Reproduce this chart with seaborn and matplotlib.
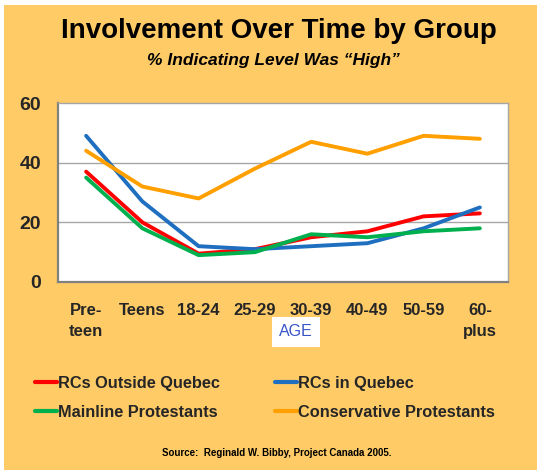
import matplotlib
matplotlib.use("Agg")
import matplotlib.pyplot as plt
import seaborn as sns
import pandas as pd
from matplotlib.patches import Rectangle
from matplotlib.lines import Line2D
from matplotlib import font_manager

categories = ["Pre-\nteen", "Teens", "18-24", "25-29", "30-39", "40-49", "50-59", "60-\nplus"]
rc_outside = [37, 20, 9.5, 11, 15, 17, 22, 23]
rc_quebec = [49, 27, 12, 11, 12, 13, 18, 25]
mainline = [35, 18, 9, 10, 16, 15, 17, 18]
conservative = [44, 32, 28, 38, 47, 43, 49, 48]
series_names = ["RCs Outside Quebec", "RCs in Quebec", "Mainline Protestants", "Conservative Protestants"]
y_ticks = [0, 20, 40, 60]

colors = {"RCs Outside Quebec": "#FF0000", "RCs in Quebec": "#1F6FC0",
          "Mainline Protestants": "#00B04F", "Conservative Protestants": "#FF9F00"}

rows = []
for name, vals in zip(series_names, [rc_outside, rc_quebec, mainline, conservative]):
    for i, v in enumerate(vals):
        rows.append({"x": i, "val": v, "group": name})
df = pd.DataFrame(rows)

sns.set_theme(style="white")
plt.rcParams['font.family'] = ['Liberation Sans', 'DejaVu Sans']

installed = {f.name for f in font_manager.fontManager.ttflist}
narrow_ok = "Liberation Sans Narrow" in installed

fig = plt.figure(figsize=(5.37, 4.70), dpi=100)
fig.patch.set_facecolor("white")
fig.patches.append(Rectangle((4/537, 0), 1, 1 - 5/470, transform=fig.transFigure,
                             facecolor="#FFCB66", edgecolor="none", zorder=-10))

ax = fig.add_axes([58/537, 1 - 282/470, 450/537, 179/470])
ax.set_facecolor("white")
for y in [20, 40]:
    ax.axhline(y, color="#A6A6A6", lw=1.0, zorder=0)

sns.lineplot(data=df, x="x", y="val", hue="group", hue_order=series_names,
             palette=colors, linewidth=2.8, legend=False, ax=ax, sort=False)

ax.set_xlim(-0.5, 7.5)
ax.set_ylim(0, 60)
ax.set_yticks(y_ticks)
ax.set_yticklabels([str(t) for t in y_ticks], fontsize=14, fontweight="bold")
ax.set_xticks(range(len(categories)))
ax.set_xticklabels(categories, fontsize=12, fontweight="bold", linespacing=1.55, va="top")
ax.tick_params(axis="x", length=4, color="#808080", pad=11)
ax.tick_params(axis="y", length=0, pad=12)
ax.set_xlabel("")
ax.set_ylabel("")
for s in ["top", "right"]:
    ax.spines[s].set_color("#A6A6A6")
    ax.spines[s].set_linewidth(1.0)
for s in ["left", "bottom"]:
    ax.spines[s].set_color("#808080")
    ax.spines[s].set_linewidth(1.6)

if narrow_ok:
    fig.text(279/537, 1 - 31/470, "Involvement Over Time by Group", ha="center", va="center",
             fontsize=24.5, fontweight="bold", color="black",
             family=["Liberation Sans Narrow", "Liberation Sans"])
    fig.text(273/537, 1 - 59/470, "% Indicating Level Was \u201cHigh\u201d", ha="center", va="center",
             fontsize=14.5, fontweight="bold", style="italic", color="black",
             family=["Liberation Sans Narrow", "Liberation Sans"])
else:
    fig.text(279/537, 1 - 31/470, "Involvement Over Time by Group", ha="center", va="center",
             fontsize=20, fontweight="bold", color="black")
    fig.text(273/537, 1 - 60/470, "% Indicating Level Was \u201cHigh\u201d", ha="center", va="center",
             fontsize=12.5, fontweight="bold", style="italic", color="black")

fig.text(296/537, 1 - 332/470, "AGE", ha="center", va="center", fontsize=11.5,
         color="#3A55C8",
         bbox=dict(boxstyle="square,pad=0.45", facecolor="white", edgecolor="none"))

legend_order = ["RCs Outside Quebec", "Mainline Protestants", "RCs in Quebec", "Conservative Protestants"]
handles = [Line2D([0], [0], color=colors[n], lw=3) for n in legend_order]
leg = fig.legend(handles, legend_order, loc="center left",
                 bbox_to_anchor=(35/537, 1 - 398/470), ncol=2, frameon=False,
                 prop=dict(size=11.8, weight="bold"), handlelength=1.35,
                 handletextpad=0.08, columnspacing=3.3, labelspacing=0.85,
                 borderpad=0, borderaxespad=0)

fig.text(277/537, 1 - 453/470, "Source:  Reginald W. Bibby, Project Canada 2005.",
         ha="center", va="center", fontsize=7, fontweight="bold", color="black")

fig.savefig("out.png", dpi=100, facecolor=fig.get_facecolor())
